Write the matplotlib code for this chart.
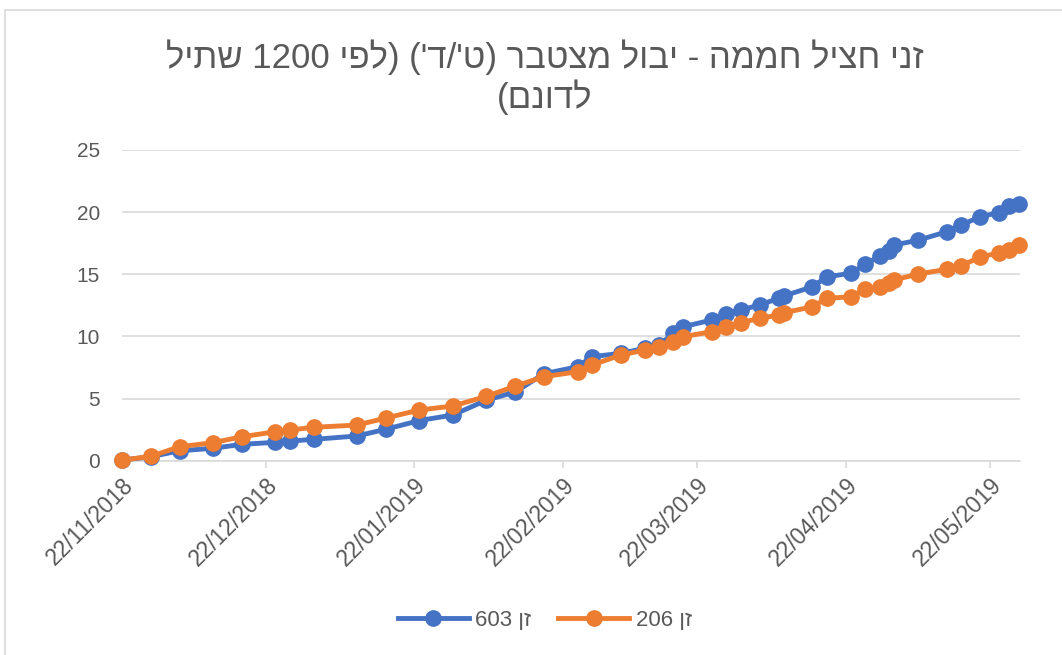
import re
import matplotlib
matplotlib.use("Agg")
import matplotlib.pyplot as plt
import matplotlib.dates as mdates
import pandas as pd
from matplotlib.patches import Rectangle

# measurement dates (dd/mm/yyyy)
dates = ["22/11/2018", "28/11/2018", "04/12/2018", "11/12/2018", "17/12/2018",
         "24/12/2018", "27/12/2018", "01/01/2019", "10/01/2019", "16/01/2019",
         "23/01/2019", "30/01/2019", "06/02/2019", "12/02/2019", "18/02/2019",
         "25/02/2019", "28/02/2019", "06/03/2019", "11/03/2019", "14/03/2019",
         "17/03/2019", "19/03/2019", "25/03/2019", "28/03/2019", "31/03/2019",
         "04/04/2019", "08/04/2019", "09/04/2019", "15/04/2019", "18/04/2019",
         "23/04/2019", "26/04/2019", "29/04/2019", "01/05/2019", "02/05/2019",
         "07/05/2019", "13/05/2019", "16/05/2019", "20/05/2019", "24/05/2019",
         "26/05/2019", "28/05/2019"]

# cumulative yield (t/dunam)
zan_603 = [0.05, 0.32, 0.80, 1.00, 1.32, 1.48, 1.58, 1.72, 1.99, 2.53,
           3.23, 3.68, 4.87, 5.53, 7.00, 7.56, 8.37, 8.64, 9.04, 9.30,
           10.25, 10.78, 11.32, 11.80, 12.12, 12.53, 13.07, 13.25, 14.00, 14.80,
           15.08, 15.80, 16.47, 16.90, 17.35, 17.74, 18.42, 18.96, 19.63, 19.97,
           20.47, 20.68]
zan_206 = [0.05, 0.35, 1.13, 1.45, 1.93, 2.33, 2.47, 2.69, 2.87, 3.43,
           4.08, 4.40, 5.18, 6.00, 6.76, 7.16, 7.70, 8.50, 8.90, 9.17,
           9.57, 9.98, 10.38, 10.78, 11.10, 11.46, 11.72, 11.90, 12.39, 13.07,
           13.19, 13.79, 14.00, 14.27, 14.54, 15.02, 15.40, 15.66, 16.41, 16.71,
           16.95, 17.35]

title_1 = "זני חציל חממה - יבול מצטבר (ט'/ד') (לפי 1200 שתיל"
title_2 = "לדונם)"
label_603 = "זן 603"
label_206 = "זן 206"


def rtl(s):
    # matplotlib has no bidi support: reverse hebrew, keep numbers readable
    s = s[::-1].translate(str.maketrans("()", ")("))
    return re.sub(r"\d+", lambda m: m.group(0)[::-1], s)


x = pd.to_datetime(dates, format="%d/%m/%Y")

plt.rcParams["font.family"] = ["Liberation Sans", "DejaVu Sans"]
grey = "#595959"

fig = plt.figure(figsize=(10.62, 6.55), dpi=100)
ax = fig.add_axes([0.1149, 0.2966, 0.8456, 0.4744])

ax.plot(x, zan_603, color="#4472C4", lw=3.5, marker="o", ms=11,
        label=rtl(label_603), clip_on=False, zorder=3)
ax.plot(x, zan_206, color="#ED7D31", lw=3.5, marker="o", ms=11,
        label=rtl(label_206), clip_on=False, zorder=4)

ax.set_ylim(0, 25)
ax.set_yticks(range(0, 26, 5))
ax.set_xlim(pd.Timestamp("2018-11-22"), pd.Timestamp("2018-11-22") + pd.Timedelta(days=187.3))
ax.xaxis.set_major_locator(mdates.MonthLocator(bymonthday=22))
ax.xaxis.set_major_formatter(mdates.DateFormatter("%d/%m/%Y"))

ax.grid(axis="y", color="#D9D9D9", lw=1.2)
ax.set_axisbelow(True)
for s in ["top", "right", "left"]:
    ax.spines[s].set_visible(False)
ax.spines["bottom"].set_color("#D9D9D9")
ax.spines["bottom"].set_linewidth(1.2)
ax.tick_params(axis="y", length=0, pad=16, labelsize=15, labelcolor=grey)
ax.tick_params(axis="x", length=5, color="#D9D9D9", width=1.2, labelsize=16.5,
               labelcolor=grey, pad=4)
for lbl in ax.get_xticklabels():
    lbl.set_rotation(45)
    lbl.set_ha("right")
    lbl.set_rotation_mode("anchor")

fig.text(0.513, 0.913, rtl(title_1), ha="center", va="center", fontsize=25, color=grey)
fig.text(0.513, 0.852, rtl(title_2), ha="center", va="center", fontsize=25, color=grey)

fig.legend(loc="center", bbox_to_anchor=(0.513, 0.053), ncol=2, frameon=False,
           fontsize=16, labelcolor=grey, handlelength=3.2, columnspacing=1.2,
           handletextpad=0.3)

fig.patches.append(Rectangle((5 / 1062, -0.1), 1.2, 1 - 10 / 655 + 0.1,
                             transform=fig.transFigure, fill=False,
                             edgecolor="#D9D9D9", lw=1.2))

fig.savefig("out.png", dpi=100, facecolor="white")
